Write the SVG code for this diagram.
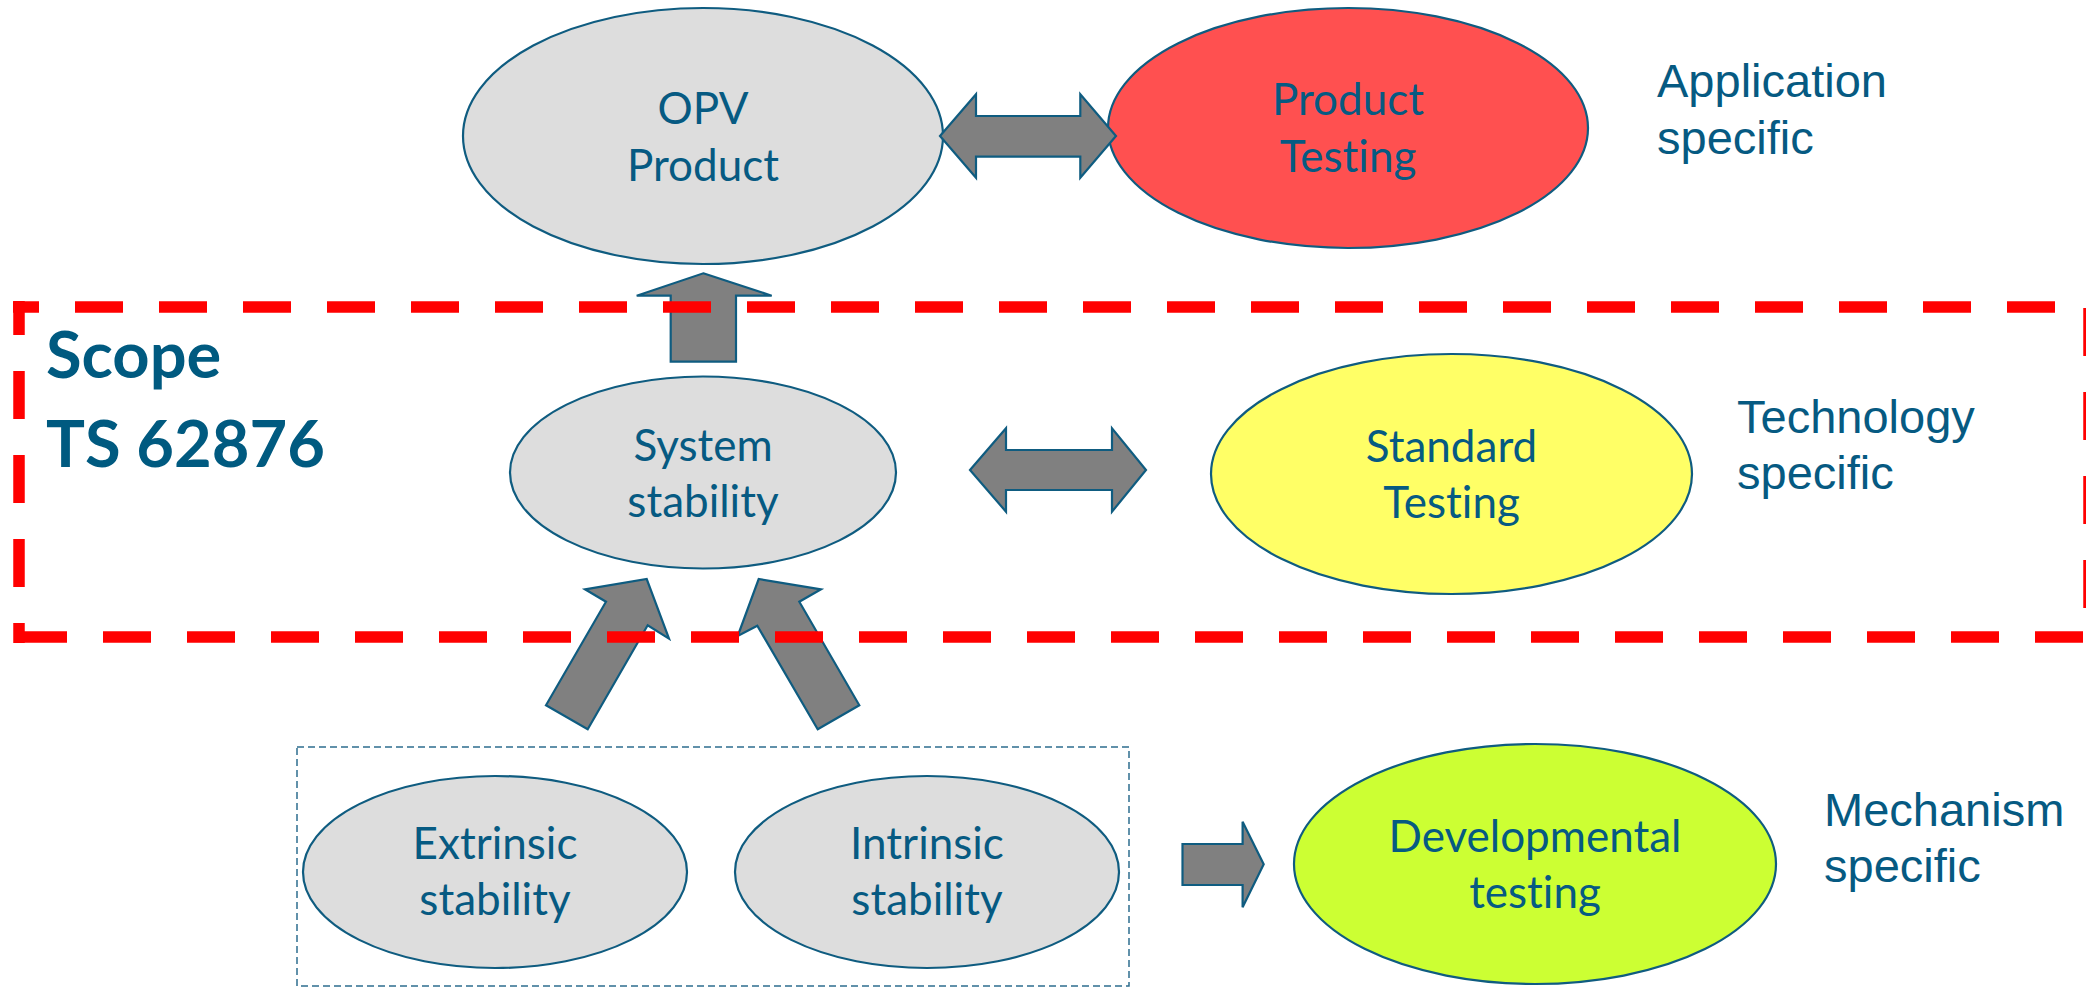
<svg xmlns="http://www.w3.org/2000/svg" width="2086" height="987" viewBox="0 0 2086 987">
  <style>
    .node { stroke: #0F5C80; stroke-width: 2.2; }
    .grey { fill: #DDDDDD; }
    .red { fill: #FF5050; }
    .yellow { fill: #FFFF66; }
    .green { fill: #CCFF33; }
    text { font-variant-ligatures: none; font-feature-settings: "liga" 0, "dlig" 0, "clig" 0; }
    .lbl { font-family: Lato, "Liberation Sans", sans-serif; font-size: 44px; fill: #065A82; text-anchor: middle; }
    .side { font-family: "Liberation Sans", Arial, sans-serif; font-size: 47px; fill: #065A82; }
    .scope { font-family: Lato, "Liberation Sans", sans-serif; font-weight: bold; font-size: 65px; fill: #005A80; }
    .arrow { fill: #808080; stroke: #0F5C80; stroke-width: 2.2; stroke-linejoin: miter; }
    .frame { fill: none; stroke: #FF0000; stroke-width: 11.5; stroke-dasharray: 48 36; }
  </style>

  <rect width="2086" height="987" fill="#FFFFFF"/>

  <!-- grouping box around the two stability ellipses -->
  <rect id="stability-group" x="297" y="747" width="832" height="239" fill="none" stroke="#2E6E8E" stroke-width="1.5" stroke-dasharray="7 4"/>

  <g id="opv-product">
    <ellipse class="node grey" cx="703" cy="136" rx="240" ry="128"/>
    <text class="lbl" x="703" y="124">OPV</text>
    <text class="lbl" x="703" y="181">Product</text>
  </g>

  <g id="product-testing">
    <ellipse class="node red" cx="1348" cy="128" rx="240" ry="120"/>
    <text class="lbl" x="1348" y="115">Product</text>
    <text class="lbl" x="1348" y="172">Testing</text>
  </g>

  <g id="system-stability">
    <ellipse class="node grey" cx="703" cy="472.5" rx="193" ry="96"/>
    <text class="lbl" x="703" y="461">System</text>
    <text class="lbl" x="703" y="517">stability</text>
  </g>

  <g id="standard-testing">
    <ellipse class="node yellow" cx="1451.5" cy="474" rx="240.5" ry="120"/>
    <text class="lbl" x="1451.5" y="462">Standard</text>
    <text class="lbl" x="1451.5" y="518">Testing</text>
  </g>

  <g id="extrinsic-stability">
    <ellipse class="node grey" cx="495" cy="872" rx="192" ry="96"/>
    <text class="lbl" x="495" y="859">Extrinsic</text>
    <text class="lbl" x="495" y="915">stability</text>
  </g>

  <g id="intrinsic-stability">
    <ellipse class="node grey" cx="927" cy="872" rx="192" ry="96"/>
    <text class="lbl" x="927" y="859">Intrinsic</text>
    <text class="lbl" x="927" y="915">stability</text>
  </g>

  <g id="developmental-testing">
    <ellipse class="node green" cx="1535" cy="864" rx="241" ry="120"/>
    <text class="lbl" x="1535" y="852">Developmental</text>
    <text class="lbl" x="1535" y="908">testing</text>
  </g>

  <g id="level-labels">
    <text class="side" x="1657" y="97">Application</text>
    <text class="side" x="1657" y="154">specific</text>
    <text class="side" x="1737" y="433">Technology</text>
    <text class="side" x="1737" y="489">specific</text>
    <text class="side" x="1824" y="826">Mechanism</text>
    <text class="side" x="1824" y="882">specific</text>
  </g>

  <g id="connectors">
    <!-- OPV Product <-> Product Testing -->
    <polygon class="arrow" points="940,136 976,94.3 976,116 1080.3,116 1080.3,94.3 1116,136 1080.3,177.7 1080.3,156.7 976,156.7 976,177.7"/>
    <!-- System stability -> OPV Product -->
    <polygon class="arrow" points="703.3,273.3 771.7,295.7 736,295.7 736,361.7 670.7,361.7 670.7,295.7 636.7,295.7"/>
    <!-- System stability <-> Standard Testing -->
    <polygon class="arrow" points="970,470 1006,428.3 1006,450 1112,450 1112,428.3 1146,470 1112,511.7 1112,490 1006,490 1006,511.7"/>
    <!-- Extrinsic -> System stability -->
    <polygon class="arrow" points="546,705.3 587.7,729.3 647.7,625.3 669,638.7 646.7,579 585,589.3 606,601.7"/>
    <!-- Intrinsic -> System stability -->
    <polygon class="arrow" points="817.7,729.3 859.3,705.3 799.3,601.7 821,589.3 758.7,579 737.7,636 757.3,625.7"/>
    <!-- stability group -> Developmental testing -->
    <polygon class="arrow" points="1182.5,844 1242.6,844 1242.6,821.7 1263.7,864.3 1242.6,907.3 1242.6,885 1182.5,885"/>
  </g>

  <g id="scope">
    <line class="frame" x1="13" y1="307" x2="2095" y2="307" stroke-dashoffset="22"/>
    <line class="frame" x1="19" y1="301" x2="19" y2="643" stroke-dashoffset="14"/>
    <line class="frame" x1="19" y1="637" x2="2095" y2="637" stroke-dashoffset="0"/>
    <line class="frame" x1="2089" y1="301" x2="2089" y2="643" stroke-dashoffset="77"/>
    <text class="scope" x="46" y="378">Scope</text>
    <text class="scope" x="46" y="467">TS 62876</text>
  </g>
</svg>
